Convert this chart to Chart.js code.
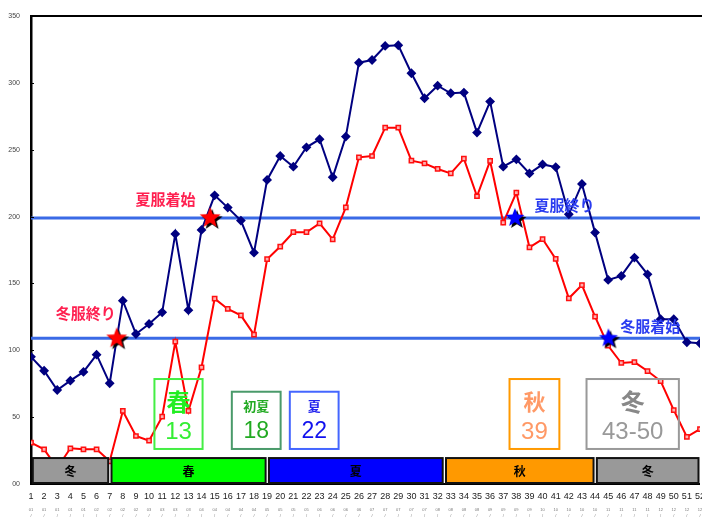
<!DOCTYPE html>
<html><head><meta charset="utf-8">
<script src="https://cdn.jsdelivr.net/npm/chart.js@4.4.1/dist/chart.umd.min.js"></script>
<style>
html,body{margin:0;padding:0;background:#fff;overflow:hidden;width:702px;height:521px}
#wrap{position:relative;width:712px;height:521px}
</style></head>
<body><div id="wrap"><canvas id="c" width="712" height="521"></canvas></div>
<script>
// ---------- data ----------
const weeks = [1,2,3,4,5,6,7,8,9,10,11,12,13,14,15,16,17,18,19,20,21,22,23,24,25,26,27,28,29,30,31,32,33,34,35,36,37,38,39,40,41,42,43,44,45,46,47,48,49,50,51,52];
const weekLabels = weeks.map(String);
const monthLabels = ['01','01','01','01','01','02','02','02','02','03','03','03','03','04','04','04','04','04','05','05','05','05','06','06','06','06','07','07','07','07','07','08','08','08','08','09','09','09','09','10','10','10','10','10','11','11','11','11','12','12','12','12'];
const maxSeries = [95.1,84.7,70.3,77.3,83.8,96.7,75.3,137.1,112.2,119.7,128.4,187,130,190,215.9,206.7,197,173,227.4,245.3,237.3,251.8,257.8,229.4,259.8,315.1,317.1,327.6,328.1,307.2,288.5,297.9,292.2,292.7,262.8,286,237.3,242.8,232.3,239,237,201.7,224.4,188,152.6,155.6,169.3,156.8,123.2,123.2,106,105.2];
const minSeries = [30.9,25.9,12,26.7,25.9,25.9,17,54.6,35.9,32.4,50.3,106.4,54.6,87.3,138.6,130.9,126.1,111.7,168.1,177.6,188.3,188.3,194.9,182.9,206.9,244.3,245.3,266.5,266.5,241.8,239.8,235.6,232.3,243.3,215.2,241.6,195.4,217.9,177,183.2,168.3,138.9,148.8,125.1,103.4,90.5,91.2,84.5,77,55.3,35.2,41];
const thresholds = [199, 109];
const starWeeks = [7.53, 14.66, 37.89, 45.02];
const starValues = [109, 199, 199, 109];
const starKinds = ['red','red','blue','blue'];
const yTicks = [0,50,100,150,200,250,300,350];
const yTickLabels = ['00','50','100','150','200','250','300','350'];
const seasonNames = ['冬','春','夏','秋','冬'];
const seasonStart = [1,7,19,32.5,44];
const seasonEnd = [7,19,32.5,44,52];
const seasonColors = ['#999999','#00ff00','#0000ff','#ff9900','#999999'];
const boxTitles = ['春','初夏','夏','秋','冬'];
const boxNumbers = ['13','18','22','39','43-50'];
const noteTexts = ['冬服終り','夏服着始','夏服終り','冬服着始'];

// ---------- star images ----------
function makeStar(color, R){
  const s = Math.ceil(R*2+8);
  const cv = document.createElement('canvas'); cv.width = s; cv.height = s;
  const c = cv.getContext('2d');
  const path = (cx,cy)=>{
    c.beginPath();
    for(let i=0;i<10;i++){
      const r = i%2===0 ? R : R*0.42;
      const a = -Math.PI/2 + i*Math.PI/5;
      const px = cx + r*Math.cos(a), py = cy + r*Math.sin(a);
      if(i===0) c.moveTo(px,py); else c.lineTo(px,py);
    }
    c.closePath();
  };
  path(s/2+2, s/2+2); c.fillStyle='#000'; c.fill();
  path(s/2, s/2); c.fillStyle=color; c.fill();
  return cv;
}
const starImgs = { red: makeStar('#ff0000', 11), blue: makeStar('#0000ff', 10) };

// ---------- annotation plugin ----------
const annot = {
  id:'annot',
  afterDatasetsDraw(chart){
    const {ctx, chartArea:ca, scales:{x,y}} = chart;
    ctx.save();
    ctx.strokeStyle='#000'; ctx.lineWidth=2;
    ctx.beginPath(); ctx.moveTo(ca.left-1, ca.top); ctx.lineTo(ca.right+10, ca.top); ctx.stroke();
    ctx.lineWidth=1;
    yTicks.forEach(v=>{ const py=Math.round(y.getPixelForValue(v))+0.5; ctx.beginPath(); ctx.moveTo(ca.left, py); ctx.lineTo(ca.left+3, py); ctx.stroke(); });

    const bTop = y.getPixelForValue(19.4), bBot = y.getPixelForValue(0.75);
    seasonNames.forEach((n,i)=>{
      const x0 = x.getPixelForValue(seasonStart[i])+1.8, x1 = x.getPixelForValue(seasonEnd[i])-1.5;
      ctx.fillStyle = seasonColors[i];
      ctx.fillRect(x0,bTop,x1-x0,bBot-bTop);
      ctx.strokeStyle='#111'; ctx.lineWidth=2;
      ctx.strokeRect(x0,bTop,x1-x0,bBot-bTop);
      ctx.fillStyle='#000'; ctx.font='bold 12px "Noto Sans CJK JP"';
      ctx.textAlign='center'; ctx.textBaseline='middle';
      ctx.fillText(n,(x0+x1)/2,(bTop+bBot)/2+1);
    });

    const boxes = [
      {x0:10.41,x1:14.08,top:78.5,border:'#44ee44',tc:'#22ee22',ts:24,nc:'#33ee33',ns:24},
      {x0:16.31,x1:20.03,top:69.0,border:'#4a9a6a',tc:'#22aa22',ts:13,nc:'#22aa22',ns:23},
      {x0:20.73,x1:24.45,top:69.0,border:'#4466ff',tc:'#2222ee',ts:13,nc:'#1111ee',ns:23},
      {x0:37.48,x1:41.28,top:78.5,border:'#ff9900',tc:'#ff9966',ts:22,nc:'#ff9966',ns:24},
      {x0:43.35,x1:50.39,top:78.5,border:'#999999',tc:'#888888',ts:24,nc:'#999999',ns:24}
    ];
    boxes.forEach((b,i)=>{
      const px0=x.getPixelForValue(b.x0), px1=x.getPixelForValue(b.x1);
      const py0=y.getPixelForValue(b.top), py1=y.getPixelForValue(26.2);
      ctx.strokeStyle=b.border; ctx.lineWidth=2;
      ctx.strokeRect(px0,py0,px1-px0,py1-py0);
      const cx=(px0+px1)/2;
      const tall = b.top>75;
      ctx.textAlign='center'; ctx.textBaseline='middle';
      ctx.fillStyle=b.tc; ctx.font='bold '+b.ts+'px "Noto Sans CJK JP"';
      ctx.fillText(boxTitles[i], cx, py0+(tall?23:14));
      ctx.fillStyle=b.nc; ctx.font=b.ns+'px "Liberation Sans"';
      ctx.fillText(boxNumbers[i], cx, py0+(tall?53:40));
    });

    const notes = [
      {w:5.17,v:127.7,c:'#ff2050'},
      {w:11.25,v:213.1,c:'#ff2050'},
      {w:41.68,v:208.7,c:'#2a3cf0'},
      {w:48.21,v:117.6,c:'#2a3cf0'}
    ];
    notes.forEach((n,i)=>{
      ctx.fillStyle=n.c; ctx.font='bold 15px "Noto Sans CJK JP"';
      ctx.textAlign='center'; ctx.textBaseline='middle';
      ctx.fillText(noteTexts[i], x.getPixelForValue(n.w), y.getPixelForValue(n.v));
    });
    ctx.restore();
  }
};

const xy = arr => arr.map((v,i)=>({x:weeks[i], y:v}));

new Chart(document.getElementById('c'), {
  type:'line',
  data:{ datasets:[
    { label:'stars', data: starWeeks.map((w,i)=>({x:w,y:starValues[i]})), showLine:false,
      pointStyle: c => starImgs[starKinds[c.dataIndex]], pointRadius:10, order:0 },
    { label:'min', data: xy(minSeries), borderColor:'#ff0000', borderWidth:2,
      pointStyle:'rect', pointRadius:3, pointBorderColor:'#ff1010', pointBackgroundColor:'#ffb0b0', pointBorderWidth:1.5, order:1, tension:0 },
    { label:'max', data: xy(maxSeries), borderColor:'#000080', borderWidth:2,
      pointStyle:'rectRot', pointRadius:3.5, pointBorderColor:'#000080', pointBackgroundColor:'#000080', order:2, tension:0 },
    { label:'t1', data:[{x:weeks[0],y:thresholds[0]},{x:weeks[weeks.length-1],y:thresholds[0]}], borderColor:'#3a6ae6', borderWidth:3, pointRadius:0, order:5 },
    { label:'t2', data:[{x:weeks[0],y:thresholds[1]},{x:weeks[weeks.length-1],y:thresholds[1]}], borderColor:'#3a6ae6', borderWidth:3, pointRadius:0, order:5 }
  ]},
  options:{
    responsive:false, animation:false, devicePixelRatio:1,
    layout:{ autoPadding:false, padding:{top:16,right:9,left:0,bottom:0} },
    plugins:{ legend:{display:false}, tooltip:{enabled:false} },
    scales:{
      x:{ type:'linear', min:1, max:52, position:'bottom',
          afterBuildTicks: s => { s.ticks = weeks.map(v=>({value:v})); },
          afterFit: s => { s.height = 20; },
          ticks:{ autoSkip:false, maxRotation:0, minRotation:0, padding:7,
                  callback:(v)=> weekLabels[weeks.indexOf(v)],
                  font:{family:'"Liberation Sans"', size:9}, color:'#222' },
          grid:{display:false, drawTicks:false},
          border:{display:true, color:'#000', width:2} },
      x2:{ type:'linear', min:1, max:52, position:'bottom',
          afterBuildTicks: s => { s.ticks = weeks.map(v=>({value:v})); },
          afterFit: s => { s.height = 17; },
          ticks:{ autoSkip:false, maxRotation:0, minRotation:0, padding:2,
                  callback:(v)=> [monthLabels[weeks.indexOf(v)], '/'],
                  font:{family:'"Liberation Sans"', size:4, lineHeight:1.7}, color:'#777' },
          grid:{display:false, drawTicks:false},
          border:{display:false} },
      y:{ min:0, max:350,
          afterBuildTicks: s => { s.ticks = yTicks.map(v=>({value:v})); },
          afterFit: s => { s.width = 31; },
          ticks:{ padding:11, callback:(v)=> yTickLabels[yTicks.indexOf(v)],
                  font:{family:'"Liberation Sans"', size:7}, color:'#444' },
          grid:{display:false, drawTicks:false},
          border:{display:true, color:'#000', width:2.5} }
    }
  },
  plugins:[annot]
});
</script>
</body></html>
